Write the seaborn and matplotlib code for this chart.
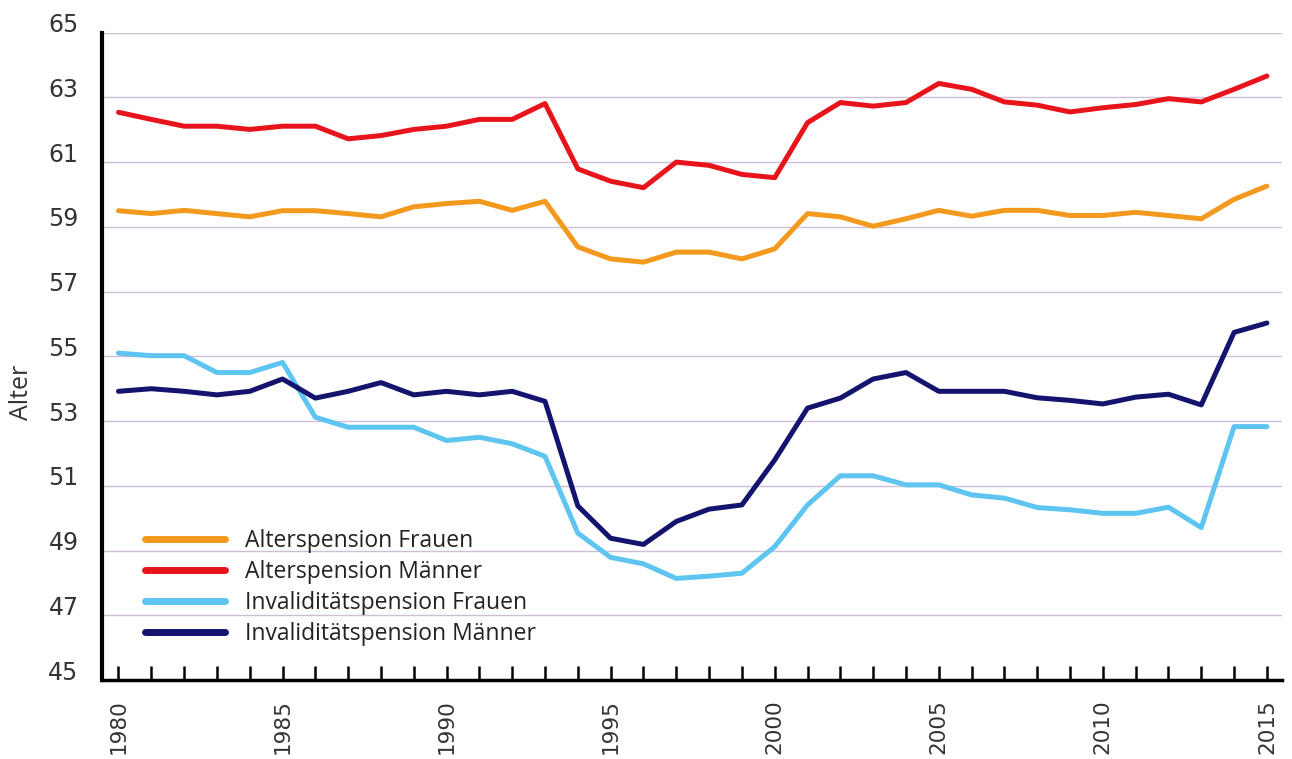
import pandas as pd
import seaborn as sns
import matplotlib.pyplot as plt
from matplotlib.transforms import ScaledTranslation

# -------------------------
# Data
# -------------------------
years = list(range(1980, 2016))

alters_frauen = [59.50, 59.41, 59.51, 59.41, 59.31, 59.50, 59.50, 59.41, 59.31, 59.62,
                 59.72, 59.79, 59.51, 59.79, 58.38, 58.01, 57.91, 58.22, 58.22, 58.01,
                 58.32, 59.41, 59.31, 59.02, 59.25, 59.51, 59.33, 59.51, 59.51, 59.35,
                 59.35, 59.45, 59.35, 59.25, 59.85, 60.26]

alters_maenner = [62.54, 62.32, 62.11, 62.11, 62.01, 62.11, 62.11, 61.72, 61.82, 62.01,
                  62.11, 62.32, 62.32, 62.81, 60.79, 60.41, 60.21, 61.00, 60.90, 60.62,
                  60.52, 62.22, 62.84, 62.73, 62.84, 63.43, 63.25, 62.86, 62.76, 62.55,
                  62.68, 62.78, 62.96, 62.86, 63.25, 63.66]

inval_frauen = [55.10, 55.02, 55.02, 54.50, 54.50, 54.81, 53.12, 52.81, 52.81, 52.81,
                52.40, 52.50, 52.30, 51.91, 49.54, 48.79, 48.59, 48.14, 48.21, 48.30,
                49.12, 50.41, 51.31, 51.31, 51.03, 51.03, 50.72, 50.62, 50.33, 50.26,
                50.15, 50.15, 50.34, 49.71, 52.83, 52.83]

inval_maenner = [53.92, 54.00, 53.92, 53.81, 53.92, 54.30, 53.71, 53.92, 54.19, 53.81,
                 53.92, 53.81, 53.92, 53.61, 50.38, 49.38, 49.19, 49.90, 50.28, 50.41,
                 51.80, 53.40, 53.71, 54.30, 54.50, 53.92, 53.92, 53.92, 53.72, 53.64,
                 53.53, 53.74, 53.83, 53.50, 55.74, 56.03]

series_names = ["Alterspension Frauen", "Alterspension Männer",
                "Invaliditätspension Frauen", "Invaliditätspension Männer"]
series_colors = ["#F39A1E", "#E8141B", "#5EC4F0", "#14146E"]

y_ticks = [45, 47, 49, 51, 53, 55, 57, 59, 61, 63, 65]
x_labels = [1980, 1985, 1990, 1995, 2000, 2005, 2010, 2015]

# -------------------------
# Long form table
# -------------------------
frames = []
for name, values in zip(series_names, [alters_frauen, alters_maenner, inval_frauen, inval_maenner]):
    frames.append(pd.DataFrame({"Jahr": years, "Alter": values, "Serie": name}))
df = pd.concat(frames, ignore_index=True)

# -------------------------
# Plot
# -------------------------
sns.set_style("white")
plt.rcParams["font.family"] = ["DejaVu Sans"]

fig = plt.figure(figsize=(12.92, 7.59), dpi=100)
ax = fig.add_axes([0.079, 0.104, 0.913, 0.853])

sns.lineplot(
    data=df, x="Jahr", y="Alter", hue="Serie",
    hue_order=series_names, palette=series_colors,
    linewidth=3.6, ax=ax
)

ax.set_xlim(1979.5, 2015.45)
ax.set_ylim(45, 65)

# grid
ax.set_yticks(y_ticks)
ax.yaxis.grid(True, color="#CDBFD8", linewidth=1.0)
ax.set_axisbelow(True)

# y ticks
ax.tick_params(axis="y", left=False, length=0, pad=17, labelsize=17, labelcolor="#333333")
for lab in ax.get_yticklabels():
    lab.set_transform(lab.get_transform() + ScaledTranslation(0, 10 / 100, fig.dpi_scale_trans))

# x ticks every year, labels every five
ax.set_xticks(years)
ax.set_xticklabels([str(y) if y in x_labels else "" for y in years], rotation=90)
ax.tick_params(axis="x", bottom=True, direction="in", length=10, width=1.8, color="black",
               pad=14, labelsize=15.5, labelcolor="#333333")
for lab in ax.get_xticklabels():
    lab.set_va("top")

# spines
for side in ["top", "right"]:
    ax.spines[side].set_visible(False)
ax.spines["left"].set_linewidth(3)
ax.spines["left"].set_color("black")
ax.spines["bottom"].set_linewidth(2.5)
ax.spines["bottom"].set_color("black")

ax.set_xlabel("")
ax.set_ylabel("Alter", fontsize=18, color="#333333", family=["Open Sans", "DejaVu Sans"])
ax.yaxis.set_label_coords(-0.058, 0.445)

# legend
handles, labels = ax.get_legend_handles_labels()
leg = ax.legend(
    handles, labels,
    loc="upper left", bbox_to_anchor=(0.0364, 0.233),
    frameon=False, borderpad=0, borderaxespad=0,
    handlelength=3.5, handletextpad=0.87, labelspacing=0.3,
    prop={"family": ["Open Sans", "DejaVu Sans"], "size": 16.5}
)
for line in leg.get_lines():
    line.set_linewidth(5)
for txt in leg.get_texts():
    txt.set_color("#222222")

fig.savefig("out.png", dpi=100)
